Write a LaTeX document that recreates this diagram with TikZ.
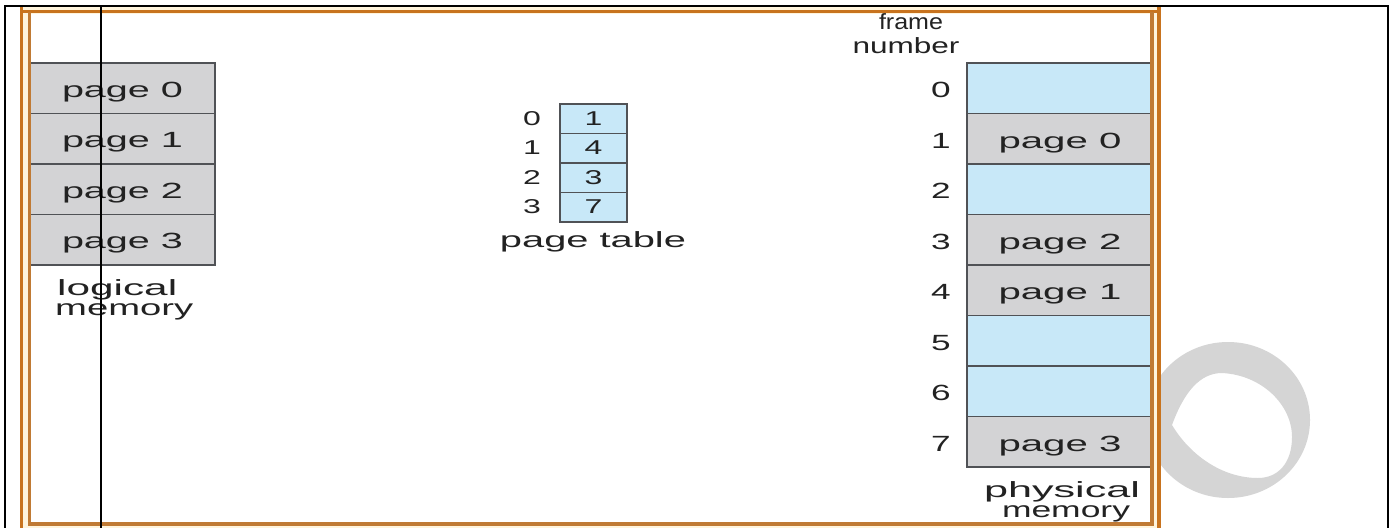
\documentclass[tikz,border=0pt]{standalone}
\usepackage{fontspec}
\setmainfont{Liberation Sans}
\usepackage{graphicx}
\definecolor{cellg}{RGB}{211,211,213}
\definecolor{cellb}{RGB}{200,232,248}
\definecolor{cellline}{RGB}{80,82,86}
\definecolor{txt}{RGB}{34,34,34}
\definecolor{orangeA}{RGB}{200,115,30}
\definecolor{orangeB}{RGB}{192,122,52}
\definecolor{cream}{RGB}{255,244,220}
\definecolor{ringc}{RGB}{213,213,213}
\newcommand\tx[2]{\resizebox{#1pt}{\height}{#2}}
\newcommand\dg[1]{\scalebox{1.6}[1]{#1}}
\begin{document}
\begin{tikzpicture}[x=1pt,y=-1pt,
  lbl/.style={anchor=base, inner sep=0pt, text=txt, font=\fontsize{22}{24}\selectfont},
  sm/.style={lbl, font=\fontsize{20}{22}\selectfont},
  gcell/.style={fill=cellg, draw=cellline, line width=1.8pt},
  bcell/.style={fill=cellb, draw=cellline, line width=1.8pt},
  frameA/.style={draw=orangeA, line width=3.6pt},
  frameB/.style={draw=orangeB, line width=3.4pt},
  blk/.style={draw=black, line width=2.8pt}]
\useasboundingbox (0,0) rectangle (1396,527);
\fill[white] (0,0) rectangle (1396,527);
% cream band between the orange lines
\fill[cream] (21,7) rectangle (1159,530);
\fill[white] (31,14) rectangle (1150,522);
% grey ring on the right
\begin{scope}
  \clip (1161,300) rectangle (1386,527);
  \fill[ringc, even odd rule] (1228,420) ellipse [x radius=82, y radius=78]
    (1172,425) .. controls (1184,392) and (1200,373) .. (1222,373)
    .. controls (1262,375) and (1292,405) .. (1292,437)
    .. controls (1292,463) and (1278,478) .. (1258,478)
    .. controls (1222,478) and (1190,455) .. (1172,425) -- cycle;
\end{scope}
% logical memory
\foreach \k in {0,...,3} {
  \path[gcell] (30,{63+50.5*\k}) rectangle (215,{113.5+50.5*\k});
}
% page table
\foreach \k in {0,...,3} {
  \path[bcell] (560,{104+29.5*\k}) rectangle (627,{133.5+29.5*\k});
}
% physical memory
\foreach \k/\s in {0/bcell,1/gcell,2/bcell,3/gcell,4/gcell,5/bcell,6/bcell,7/gcell} {
  \path[\s] (967,{63+50.5*\k}) rectangle (1151,{113.5+50.5*\k});
}
% orange frame
\draw[frameA] (21.5,7) -- (21.5,530);
\draw[frameA] (1159,7) -- (1159,530);
\draw[frameA] (20,11.5) -- (1160.5,11.5);
\draw[frameB] (29.5,12) -- (29.5,524) -- (1152,524) -- (1152,12);
% logical memory texts
\foreach \k in {0,...,3} {
  \node[lbl] (lp\k) at (122.5,{97+50.5*\k}) {\tx{121}{page \k}};
}
\node[lbl, anchor=base west] (lm1) at (57,295) {\tx{120}{logical}};
\node[lbl, anchor=base west] (lm2) at (55,315) {\tx{138}{memory}};
% page table texts
\foreach \k/\v in {0/1,1/4,2/3,3/7} {
  \node[sm] (pi\k) at (532,{125+29.5*\k}) {\dg{\k}};
  \node[sm] (pv\k) at (593.5,{125+29.5*\k}) {\dg{\v}};
}
\node[lbl] (pt) at (593,247) {\tx{186}{page table}};
% physical memory texts
\node[lbl] (fn1) at (911,30) {\tx{64}{frame}};
\node[lbl] (fn2) at (906,53) {\tx{107}{number}};
\foreach \k in {0,...,7} {
  \node[lbl] (fr\k) at (941,{97.5+50.5*\k}) {\dg{\k}};
}
\foreach \k/\p in {1/0,3/2,4/1,7/3} {
  \node[lbl] (pp\k) at (1060,{97.5+50.5*\k}) {\tx{123}{page \p}};
}
\node[lbl] (pm1) at (1062,497) {\tx{156}{physical}};
\node[lbl] (pm2) at (1066,517) {\tx{128}{memory}};
% black lines
\draw[blk] (5,530) -- (5,6) -- (1388,6) -- (1388,530);
\draw[blk] (101,6) -- (101,530);
\end{tikzpicture}
\end{document}
